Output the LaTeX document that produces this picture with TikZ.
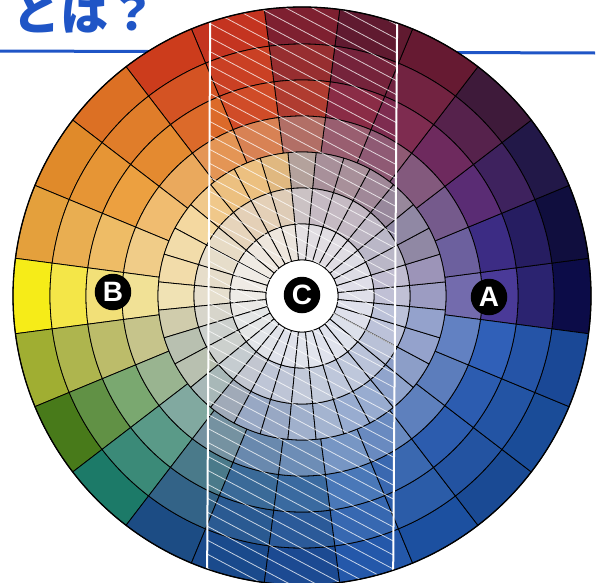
\documentclass[tikz,border=0pt]{standalone}
\usepackage{fontspec}
\setsansfont{Liberation Sans}
\newfontfamily\jpfont{Noto Sans CJK JP}

\definecolor{titleblue}{HTML}{1F55C6}
\definecolor{paleA}{HTML}{EEEEF2}
\definecolor{paleB}{HTML}{DDDDE4}
% outer (O), middle (M) and inner (I) colour of each of the 24 hues
\definecolor{O0}{HTML}{0C0C48}  \definecolor{M0}{HTML}{4A3A98}  \definecolor{I0}{HTML}{9C9CC2}
\definecolor{O1}{HTML}{100E3E}  \definecolor{M1}{HTML}{3C2C84}  \definecolor{I1}{HTML}{9C94B8}
\definecolor{O2}{HTML}{221848}  \definecolor{M2}{HTML}{5A2C74}  \definecolor{I2}{HTML}{9088A4}
\definecolor{O3}{HTML}{3E1A3A}  \definecolor{M3}{HTML}{6E2A5E}  \definecolor{I3}{HTML}{98889C}
\definecolor{O4}{HTML}{661A32}  \definecolor{M4}{HTML}{7E2C50}  \definecolor{I4}{HTML}{A08898}
\definecolor{O5}{HTML}{601A30}  \definecolor{M5}{HTML}{8A2C46}  \definecolor{I5}{HTML}{A8909A}
\definecolor{O6}{HTML}{7E2030}  \definecolor{M6}{HTML}{B03C30}  \definecolor{I6}{HTML}{B4A29C}
\definecolor{O7}{HTML}{C43420}  \definecolor{M7}{HTML}{D04C28}  \definecolor{I7}{HTML}{E0B880}
\definecolor{O8}{HTML}{CC3C1C}  \definecolor{M8}{HTML}{DC6A2A}  \definecolor{I8}{HTML}{ECC080}
\definecolor{O9}{HTML}{DC7024}  \definecolor{M9}{HTML}{E48A30}  \definecolor{I9}{HTML}{F0C88A}
\definecolor{O10}{HTML}{E08A2A} \definecolor{M10}{HTML}{ECA040} \definecolor{I10}{HTML}{F4D8A0}
\definecolor{O11}{HTML}{E4A03C} \definecolor{M11}{HTML}{EEBC66} \definecolor{I11}{HTML}{F2DCAA}
\definecolor{O12}{HTML}{F6EC18} \definecolor{M12}{HTML}{F2E078} \definecolor{I12}{HTML}{F0E2B4}
\definecolor{O13}{HTML}{A0AE32} \definecolor{M13}{HTML}{BCBC6A} \definecolor{I13}{HTML}{D0CCAC}
\definecolor{O14}{HTML}{487A1A} \definecolor{M14}{HTML}{7AA870} \definecolor{I14}{HTML}{B8C0B0}
\definecolor{O15}{HTML}{1C7A68} \definecolor{M15}{HTML}{5A9A88} \definecolor{I15}{HTML}{A8B8B8}
\definecolor{O16}{HTML}{1C4C84} \definecolor{M16}{HTML}{4A7A8A} \definecolor{I16}{HTML}{A0AAB8}
\definecolor{O17}{HTML}{1A4A8C} \definecolor{M17}{HTML}{3A6A98} \definecolor{I17}{HTML}{98A8C4}
\definecolor{O18}{HTML}{1C4A92} \definecolor{M18}{HTML}{3A6AA0} \definecolor{I18}{HTML}{A0B0CC}
\definecolor{O19}{HTML}{2458AA} \definecolor{M19}{HTML}{4A78B8} \definecolor{I19}{HTML}{A4B4D0}
\definecolor{O20}{HTML}{1C50A0} \definecolor{M20}{HTML}{3A68B0} \definecolor{I20}{HTML}{98ACD0}
\definecolor{O21}{HTML}{1A4A94} \definecolor{M21}{HTML}{2C5CAE} \definecolor{I21}{HTML}{90A4CC}
\definecolor{O22}{HTML}{1A4C98} \definecolor{M22}{HTML}{2C5CB0} \definecolor{I22}{HTML}{8C9EC8}
\definecolor{O23}{HTML}{1A4896} \definecolor{M23}{HTML}{3060B8} \definecolor{I23}{HTML}{94A2CC}

\begin{document}
\begin{tikzpicture}[x=1pt,y=1pt,
  cell/.style={draw=black, line width=0.8pt},
  labeldisc/.style={circle, fill=black, text=white, inner sep=0pt, minimum size=36.5pt,
    font=\sffamily\bfseries\fontsize{28}{28}\selectfont},
  hatchline/.style={white, opacity=0.75, line width=0.8pt},
  bandline/.style={white, line width=2pt}]
\clip (-302,-286) rectangle (302,296);

% title
\draw[titleblue, line width=3pt] (-302,245) -- (293,243);
\node[anchor=base west, inner sep=0pt, text=titleblue,
  font=\jpfont\bfseries\fontsize{48}{48}\selectfont] (title) at (-290,266) {とは？};

% outer rings, 24 hues
\foreach \j in {0,...,23}{
  \pgfmathsetmacro\ta{15*\j-7.5}
  \pgfmathsetmacro\tb{15*\j+7.5}
  \foreach \ri/\ro/\ca/\cb/\p in {252/289/O/M/100, 216/252/O/M/50, 180/216/M/I/100, 144/180/M/I/50}{
    \filldraw[cell, fill=\ca\j!\p!\cb\j] (\ta:\ri) -- (\ta:\ro) arc[start angle=\ta, end angle=\tb, radius=\ro]
      -- (\tb:\ri) arc[start angle=\tb, end angle=\ta, radius=\ri] -- cycle;
  }
}

% inner rings, 32 cells
\foreach \s in {0,...,31}{
  \pgfmathsetmacro\ta{11.25*\s-5.625}
  \pgfmathsetmacro\tb{11.25*\s+5.625}
  \pgfmathtruncatemacro\j{mod(round(11.25*\s/15),24)}
  \foreach \ri/\ro/\p/\cb in {108/144/100/white, 72/108/45/paleB, 36/72/18/paleA}{
    \filldraw[cell, fill=I\j!\p!\cb] (\ta:\ri) -- (\ta:\ro) arc[start angle=\ta, end angle=\tb, radius=\ro]
      -- (\tb:\ri) arc[start angle=\tb, end angle=\ta, radius=\ri] -- cycle;
  }
}
\filldraw[fill=white, draw=black, line width=0.8pt] (0,0) circle (36);

% hatched band
\begin{scope}
  \clip (0,0) circle (288.5);
  \clip (-91.7,300) -- (95.3,300) -- (91,-300) -- (-95,-300) -- cycle;
  \foreach \y in {-320,-306,...,440}
    \draw[hatchline] (-110,\y) -- ++(-28:250);
\end{scope}
\begin{scope}
  \clip (0,0) circle (288.5);
  \draw[bandline] (-91.7,300) -- (-95,-300);
  \draw[bandline] (95.3,300) -- (91,-300);
\end{scope}
\draw[line width=1.3pt] (0,0) circle (289);

% labels
\node[labeldisc] (discA) at (187,-1) {A};
\node[labeldisc] (discB) at (-189,4) {B};
\node[labeldisc] (discC) at (0,1) {C};
\end{tikzpicture}
\end{document}
